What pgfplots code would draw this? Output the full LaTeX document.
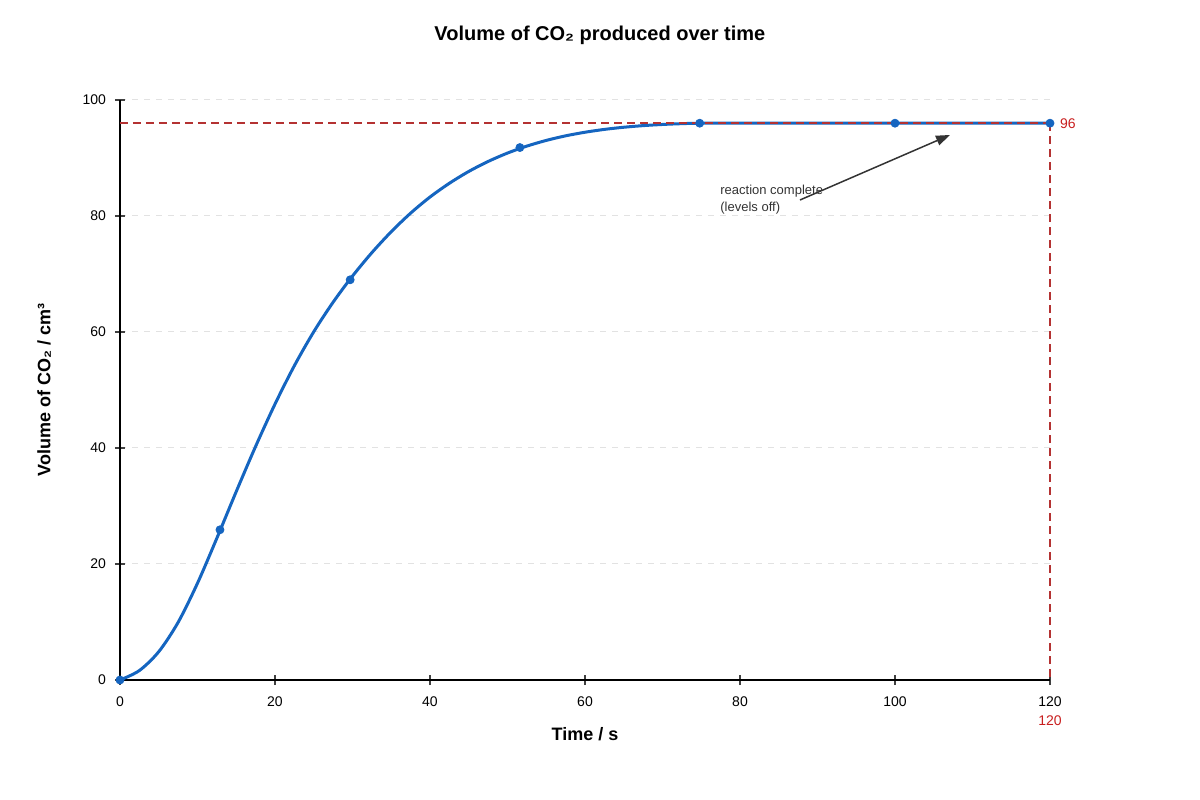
\documentclass[border=0pt]{standalone}
\usepackage{fontspec}
\setmainfont{Liberation Sans}
\usepackage{pgfplots}
\pgfplotsset{compat=1.18}
\usepackage{pgfplotstable}
\usetikzlibrary{arrows.meta}

\definecolor{curveblue}{RGB}{21,101,192}
\definecolor{refred}{RGB}{180,50,50}
\definecolor{labelred}{RGB}{200,30,30}
\definecolor{gridgray}{RGB}{226,226,226}
\definecolor{notegray}{RGB}{51,51,51}

% measured points (time / s, volume / cm3)
\pgfplotstableread{
t v
0 0
12.9 25.9
29.7 69
51.6 91.8
74.8 96
100 96
120 96
}\comarks

% the drawn curve, read off every 2.5 s
\pgfplotstableread{
t v
0 0
2.5 1.63
5 4.88
7.5 9.94
10 16.69
12.5 24.46
15 32.49
17.5 40.28
20 47.57
22.5 54.19
25 60.04
27.5 65.14
30 69.64
32.5 73.68
35 77.29
37.5 80.49
40 83.27
42.5 85.64
45 87.68
47.5 89.4
50 90.85
52.5 92.05
55 93.03
57.5 93.82
60 94.44
62.5 94.93
65 95.3
67.5 95.58
70 95.78
72.5 95.92
75 96
80 96
85 96
90 96
95 96
100 96
105 96
110 96
115 96
120 96
}\cocurve

\begin{document}
\begin{tikzpicture}
\begin{axis}[
  scale only axis,
  width=465bp, height=290bp,
  xmin=0, xmax=120, ymin=0, ymax=100,
  axis lines=left,
  axis line style={-, line width=1bp, black},
  xtick={0,20,...,120}, ytick={0,20,...,100},
  tick align=center,
  major tick length=5bp,
  tick style={line width=0.75bp, black!75},
  ymajorgrids,
  grid style={gridgray, dash pattern=on 3bp off 3bp, line width=0.5bp},
  /pgf/number format/assume math mode=true,
  tick label style={font=\fontsize{7bp}{8.5bp}\selectfont},
  xticklabel style={anchor=center, yshift=-8.5bp},
  yticklabel style={anchor=east, xshift=-1bp},
  xlabel={\bfseries Time / s},
  ylabel={\bfseries Volume of CO₂ / cm³},
  label style={font=\fontsize{9bp}{11bp}\selectfont},
  xlabel style={at={(axis description cs:0.5,-0.0931)}, anchor=center},
  ylabel style={at={(axis description cs:-0.0817,0.5)}, anchor=center},
  title={\bfseries Volume of CO₂ produced over time},
  title style={font=\fontsize{10bp}{12bp}\selectfont, at={(axis description cs:0.516,1.0914)}, anchor=center},
  clip=false,
]
\coordinate (O) at (rel axis cs:0,0);
\addplot[curveblue, line width=1.5bp, smooth, no marks] table[x=t, y=v] {\cocurve};
\draw[refred, line width=1bp, dash pattern=on 4bp off 2.5bp] (axis cs:0,96) -- (axis cs:120,96);
\draw[refred, line width=1bp, dash pattern=on 4bp off 2.5bp] (axis cs:120,96) -- (axis cs:120,0);
\addplot[only marks, mark=*, mark size=2bp, curveblue] table[x=t, y=v] {\comarks};
\node[labelred, anchor=west, font=\fontsize{7bp}{8.5bp}\selectfont] at (axis cs:120,96) [xshift=1.5bp] {96};
\node[labelred, anchor=center, font=\fontsize{7bp}{8.5bp}\selectfont] at (axis cs:120,0) [yshift=-20.5bp] {120};
\draw[notegray, line width=0.75bp, -{Triangle[length=7bp, width=5bp]}] (axis cs:87.74,82.76) -- (axis cs:107.1,93.97);
\node[notegray, anchor=base west, inner sep=0pt, font=\fontsize{6.5bp}{8bp}\selectfont] at (axis cs:77.42,83.62) {reaction complete};
\node[notegray, anchor=base west, inner sep=0pt, font=\fontsize{6.5bp}{8bp}\selectfont] at (axis cs:77.42,80.69) {(levels off)};
\end{axis}
\pgfresetboundingbox
\path (O) ++(-60bp,-60bp) rectangle ++(600bp,400bp);
\end{tikzpicture}
\end{document}
